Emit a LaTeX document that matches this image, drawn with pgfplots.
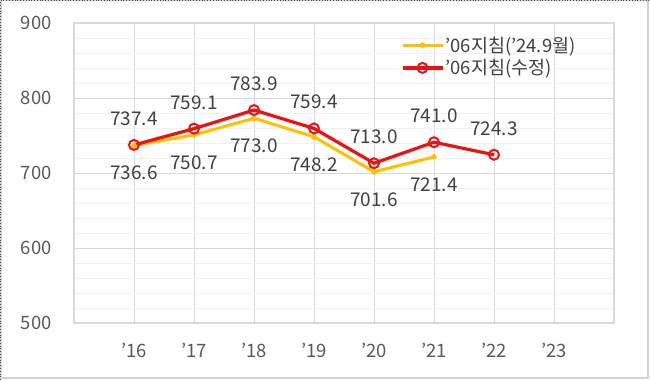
\documentclass[border=0pt]{standalone}
\usepackage{pgfplots}
\pgfplotsset{compat=1.18}
\usepackage{fontspec}
\setmainfont{Noto Sans CJK KR}
\definecolor{ylw}{HTML}{FFC000}
\definecolor{rd}{HTML}{EE1111}
\definecolor{txt}{HTML}{595959}
\definecolor{lab}{HTML}{404040}
\definecolor{grd}{HTML}{D9D9D9}
\definecolor{mgrd}{HTML}{EFEFEF}
\begin{document}
\begin{tikzpicture}[x=1bp,y=1bp]
\useasboundingbox (-74,-57) rectangle (576,323);
\fill[white] (-74,-57) rectangle (576,323);
\draw[gray!35, line width=1.5bp] (-73,-55) rectangle (574,322.5);
\draw[black!70, dotted, line width=0.8bp] (-73.6,-57) -- (-73.6,322.6) -- (576,322.6);
\begin{axis}[at={(0,0)}, anchor=south west, scale only axis,
  width=540bp, height=300bp,
  xmin=15, xmax=24, ymin=500, ymax=900,
  xtick={16,...,23},
  xticklabels={'16,'17,'18,'19,'20,'21,'22,'23},
  ytick={500,600,700,800,900},
  yticklabels={500,600,700,800,900},
  minor y tick num=4,
  grid=both,
  major grid style={grd, line width=1bp},
  minor grid style={mgrd, line width=0.8bp},
  axis line style={grd, line width=1.2bp},
  tick style={draw=none},
  ticklabel style={font=\fontsize{18.5}{21}\selectfont, text=txt},
  yticklabel style={xshift=-19bp},
  xticklabel style={yshift=-17bp},
  clip=false,
  legend style={draw=none, fill=none, at={(0.605,0.96)}, anchor=north west,
    font=\fontsize{18.5}{21}\selectfont, text=lab, row sep=3bp,
    legend cell align=left, inner sep=0pt,
    nodes={inner sep=1.5bp}},
  legend image code/.code={\draw[mark repeat=2,mark phase=2] plot coordinates {(0bp,0bp) (20bp,0bp) (40bp,0bp)};},
  nodes near coords,
  point meta=explicit symbolic,
  every node near coord/.append style={font=\fontsize{19}{22}\selectfont, text=lab},
]
\addplot[ylw, line width=3bp, mark=*, mark size=2.5bp, mark options={fill=ylw, draw=ylw, line width=0.5bp},
  nodes near coords align={below}, every node near coord/.append style={yshift=-17bp}]
  table[meta=l] {
x y l
16 736.6 736.6
17 750.7 750.7
18 773.0 773.0
19 748.2 748.2
20 701.6 701.6
21 721.4 721.4
};
\addlegendentry{'06지침('24.9월)}
\addplot[rd, line width=3.2bp, mark=o, mark size=5bp, mark options={fill=white, draw=rd, line width=2bp},
  nodes near coords align={above}, every node near coord/.append style={yshift=15bp}]
  table[meta=l] {
x y l
16 737.4 737.4
17 759.1 759.1
18 783.9 783.9
19 759.4 759.4
20 713.0 713.0
21 741.0 741.0
22 724.3 724.3
};
\addlegendentry{'06지침(수정)}
\end{axis}
\end{tikzpicture}
\end{document}
